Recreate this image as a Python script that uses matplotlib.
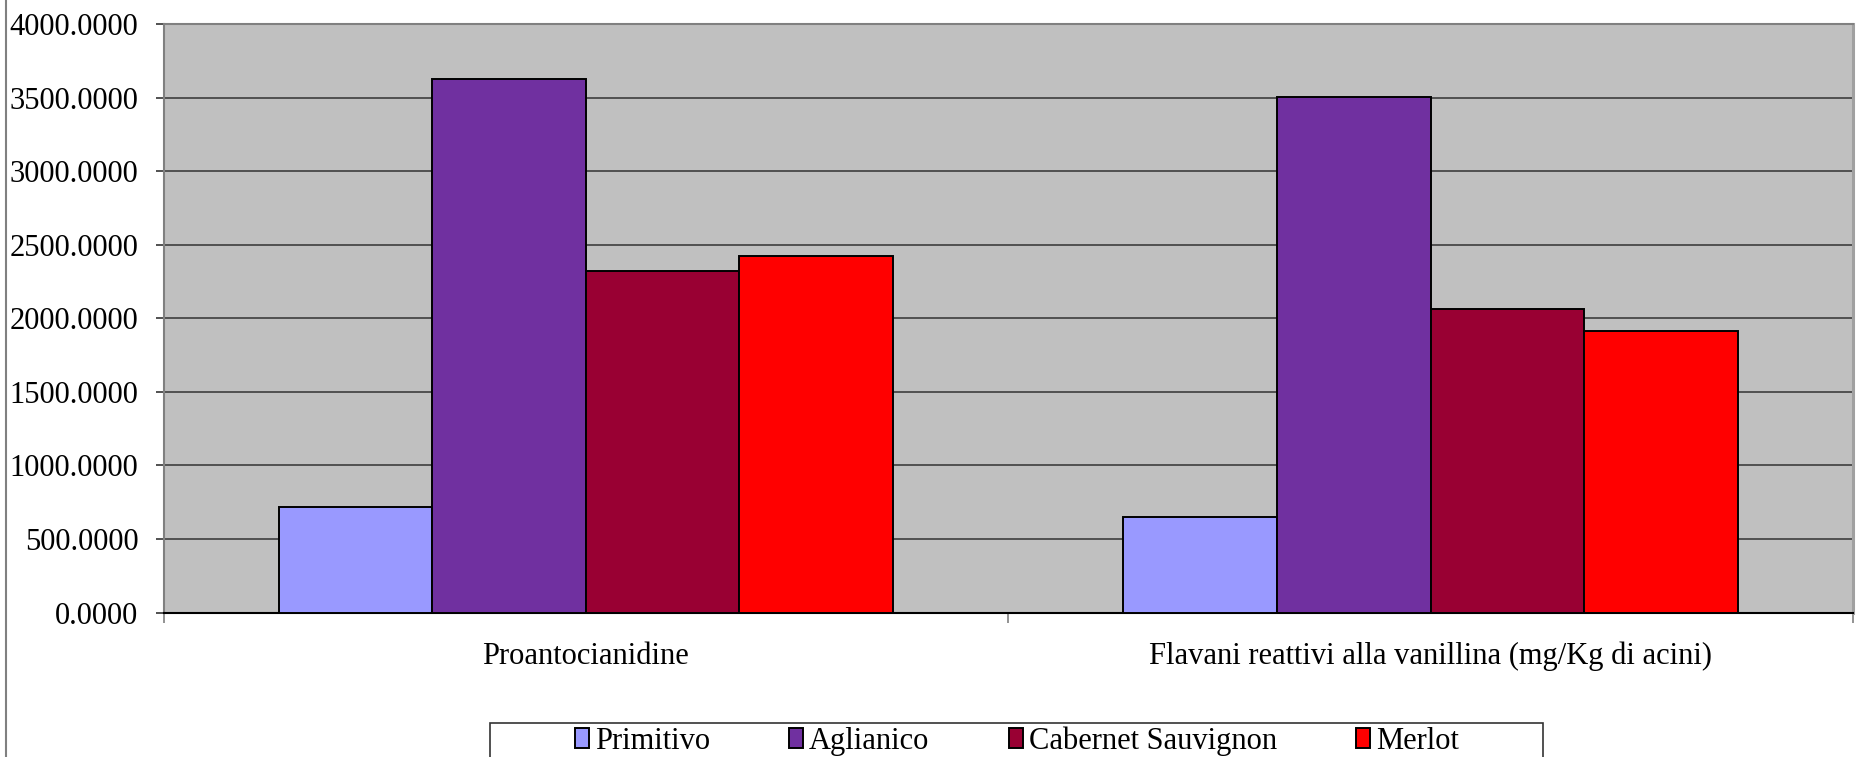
import matplotlib
matplotlib.use("Agg")
import matplotlib.pyplot as plt
import numpy as np
from matplotlib.patches import Rectangle
from matplotlib.ticker import FormatStrFormatter, FixedLocator

# Data
categories = ["Proantocianidine", "Flavani reattivi alla vanillina (mg/Kg di acini)"]
varieties = ["Primitivo", "Aglianico", "Cabernet Sauvignon", "Merlot"]
primitivo = [716, 650]
aglianico = [3624, 3503]
cabernet = [2318, 2061]
merlot = [2420, 1913]
y_ticks = [0, 500, 1000, 1500, 2000, 2500, 3000, 3500, 4000]

series = [primitivo, aglianico, cabernet, merlot]
colors = ["#9999FF", "#7030A0", "#990033", "#FF0000"]

plt.rcParams["font.family"] = ["Liberation Serif", "DejaVu Serif"]

W, H = 1859, 757
fig = plt.figure(figsize=(W / 100, H / 100), dpi=100)
fig.patch.set_facecolor("white")

# plot area in pixel coordinates
left, right, top, bottom = 163.5, 1853, 24, 612.5
ax = fig.add_axes([left / W, 1 - bottom / H, (right - left) / W, (bottom - top) / H])
ax.set_facecolor("#C0C0C0")

n = len(series)
gap = 1.5
bw = 1.0 / (n + gap)
x = np.arange(len(categories))
for i, (vals, c, name) in enumerate(zip(series, colors, varieties)):
    offs = (i - (n - 1) / 2) * bw
    ax.bar(x + offs, vals, width=bw, color=c, edgecolor="black", linewidth=1.4,
           label=name, zorder=3)

ax.set_xlim(-0.5, len(categories) - 0.5)
ax.set_ylim(0, 4000)
ax.yaxis.set_major_locator(FixedLocator(y_ticks))
ax.yaxis.set_major_formatter(FormatStrFormatter("%.4f"))
ax.grid(axis="y", color="#333333", linewidth=1.1, zorder=1)
ax.set_axisbelow(True)

# category separators as x ticks, labels centred under each group
ax.set_xticks(np.arange(-0.5, len(categories), 1.0))
ax.set_xticklabels([])
ax.set_xticks(x, minor=True)
ax.set_xticklabels(categories, minor=True, fontsize=22)
ax.tick_params(axis="x", which="minor", length=0, pad=21)
ax.tick_params(axis="x", which="major", direction="out", length=7, width=1.2, color="#808080")
ax.tick_params(axis="y", direction="out", length=6, width=1.2, color="#333333",
               labelsize=22, pad=12)

for side in ["top", "left", "right"]:
    ax.spines[side].set_color("#808080")
    ax.spines[side].set_linewidth(1.5)
ax.spines["right"].set_color("#A0A0A0")
ax.spines["right"].set_linewidth(2.2)
ax.spines["bottom"].set_color("black")
ax.spines["bottom"].set_linewidth(1.5)

# chart border on the left
fig.add_artist(plt.Line2D([6 / W, 6 / W], [0, 1], color="#808080", linewidth=1.5,
                          transform=fig.transFigure))

# legend frame and entries
fig.add_artist(Rectangle((490 / W, -0.05), (1543 - 490) / W, 0.05 + 1 - 723 / H,
                         transform=fig.transFigure, facecolor="white",
                         edgecolor="#333333", linewidth=1.2))
leg = fig.legend(loc="center", bbox_to_anchor=(1017 / W, 1 - 741 / H), ncol=4,
                 frameon=False, fontsize=22, handlelength=0.45, handleheight=0.65,
                 handletextpad=0.2, columnspacing=2.6, borderpad=0)

fig.savefig("out.png", dpi=100)
